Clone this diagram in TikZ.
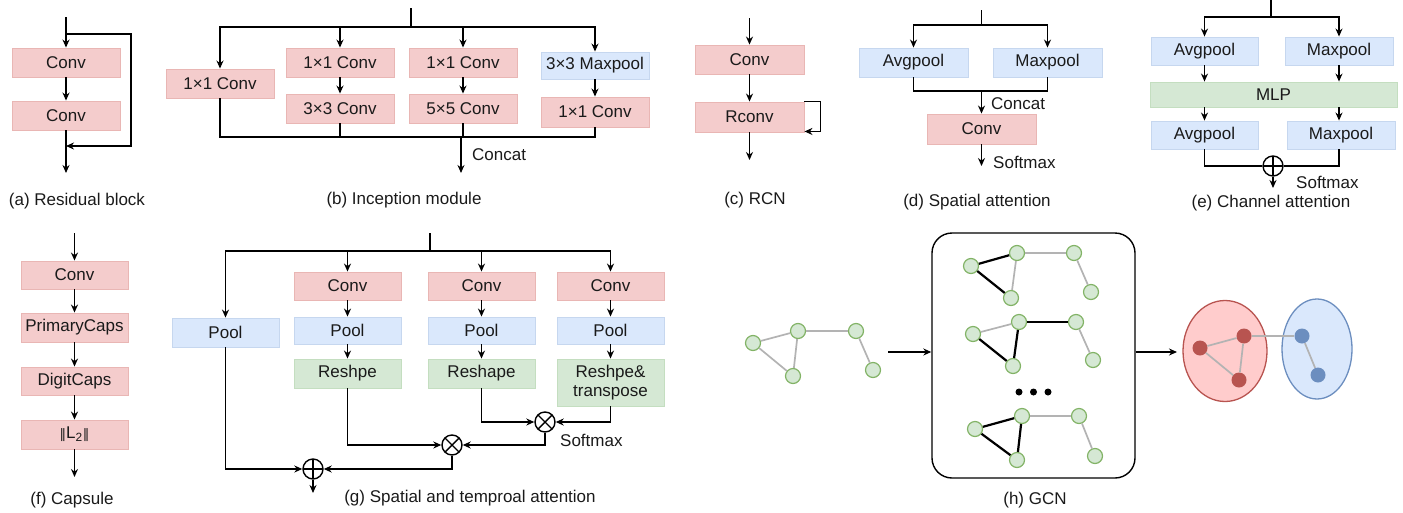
\documentclass[tikz,border=0pt]{standalone}
\usepackage{fontspec}
\setmainfont{Liberation Sans}
\newfontfamily\djv{DejaVu Sans}
\usetikzlibrary{arrows.meta,shapes.geometric}
\definecolor{pkf}{HTML}{F4CCCC}
\definecolor{pkd}{HTML}{E9B6B4}
\definecolor{blf}{HTML}{DAE8FC}
\definecolor{bld}{HTML}{C6D7EF}
\definecolor{gnf}{HTML}{D5E8D4}
\definecolor{gnd}{HTML}{C4DEC0}
\definecolor{gnode}{HTML}{82B366}
\definecolor{redf}{HTML}{FFCCCC}
\definecolor{redd}{HTML}{B85450}
\definecolor{bluf}{HTML}{DAE8FC}
\definecolor{blud}{HTML}{6C8EBF}
\definecolor{edgegray}{HTML}{B3B3B3}
\definecolor{ink}{HTML}{1A1A1A}
\begin{document}
\begin{tikzpicture}[x=1pt,y=-1pt,
 font=\fontsize{17}{20}\selectfont,
 every node/.style={text=ink},
 box/.style={draw, line width=0.9pt, inner sep=0pt, minimum width=108pt, minimum height=29pt},
 pk/.style={box, fill=pkf, draw=pkd},
 bl/.style={box, fill=blf, draw=bld},
 gn/.style={box, fill=gnf, draw=gnd},
 conn/.style={line width=1.8pt, draw=black},
 arr/.style={conn, -{Stealth[length=8pt,width=7pt]}},
 op/.style={circle, draw, line width=1.4pt, minimum size=20pt, inner sep=0pt, fill=white},
 oplus/.style={op, path picture={\draw[line width=1.4pt] (path picture bounding box.north) -- (path picture bounding box.south) (path picture bounding box.west) -- (path picture bounding box.east);}},
 otimes/.style={op, path picture={\draw[line width=1.4pt] (path picture bounding box.north west) -- (path picture bounding box.south east) (path picture bounding box.south west) -- (path picture bounding box.north east);}},
 txt/.style={inner sep=0pt, anchor=west},
 lab/.style={inner sep=0pt},
 gv/.style={circle, draw=gnode, fill=gnf, line width=1.2pt, minimum size=15pt, inner sep=0pt},
 ge/.style={draw=edgegray, line width=1.7pt},
 be/.style={draw=black, line width=2.2pt},
]
\useasboundingbox (0,0) rectangle (1403,512);

% ---------- (a) Residual block
\node[pk] (a1) at (66,62.5) {Conv};
\node[pk] (a2) at (66,115.5) {Conv};
\coordinate (ain) at (66,17);
\coordinate (askip) at (66,34);
\coordinate (askipR) at (131,34);
\coordinate (amerge) at (66,146);
\coordinate (aout) at (66,173);
\draw[arr] (ain) -- (a1);
\draw[arr] (a1) -- (a2);
\draw[arr] (a2) -- (aout);
\draw[arr] (askip) -- (askipR) |- (amerge);
\node[lab] (la) at (77,201) {(a) Residual block};

% ---------- (b) Inception module
\node[pk] (b1) at (220,83.5) {1×1 Conv};
\node[pk] (b2a) at (340,62.5) {1×1 Conv};
\node[pk] (b2b) at (340,108.5) {3×3 Conv};
\node[pk] (b3a) at (463,62.5) {1×1 Conv};
\node[pk] (b3b) at (463,108.5) {5×5 Conv};
\node[bl, minimum height=27pt] (b4a) at (595,65.5) {3×3 Maxpool};
\node[pk, minimum height=30pt] (b4b) at (595,112) {1×1 Conv};
\coordinate (btop) at (411,8);
\coordinate (bsplit) at (411,27);
\coordinate (bj) at (461,137);
\coordinate (bout) at (461,173);
\draw[conn] (btop) -- (bsplit);
\draw[arr] (bsplit) -| (b1);
\draw[arr] (bsplit) -| (b4a);
\draw[arr] (b2a|-bsplit) -- (b2a);
\draw[arr] (b3a|-bsplit) -- (b3a);
\draw[arr] (b2a) -- (b2b);
\draw[arr] (b3a) -- (b3b);
\draw[arr] (b4a) -- (b4b);
\draw[conn] (b1) |- (bj);
\draw[conn] (b4b) |- (bj);
\draw[conn] (b2b) -- (b2b|-bj);
\draw[conn] (b3b) -- (b3b|-bj);
\draw[arr] (bj) -- (bout);
\node[txt] (bcat) at (472,155) {Concat};
\node[lab] (lb) at (404,200) {(b) Inception module};

% ---------- (c) RCN
\node[pk, minimum width=109pt] (c1) at (749.5,59.5) {Conv};
\node[pk, minimum width=109pt, minimum height=30pt] (c2) at (749.5,117) {Rconv};
\coordinate (cin) at (749.5,18);
\coordinate (cout) at (749.5,160);
\draw[arr] (cin) -- (c1);
\draw[arr] (c1) -- (c2);
\draw[arr] (c2) -- (cout);
\draw[arr] (c2.north east) -- ++(16,0) |- ([yshift=1pt]c2.south east);
\node[lab] (lc) at (755,200) {(c) RCN};

% ---------- (d) Spatial attention
\node[bl, minimum width=109pt] (d1) at (913.5,62.5) {Avgpool};
\node[bl, minimum width=109pt] (d2) at (1047.5,62.5) {Maxpool};
\node[pk, minimum width=109pt, minimum height=30pt] (d3) at (981.5,129) {Conv};
\coordinate (din) at (981.5,10);
\coordinate (dsplit) at (981.5,25);
\coordinate (dj) at (981.5,91);
\coordinate (dout) at (981.5,166);
\draw[conn] (din) -- (dsplit);
\draw[arr] (dsplit) -| (d1);
\draw[arr] (dsplit) -| (d2);
\draw[conn] (d1) |- (dj);
\draw[conn] (d2) |- (dj);
\draw[arr] (dj) -- (d3);
\draw[arr] (d3) -- (dout);
\node[txt] (dcat) at (991,104) {Concat};
\node[txt] (dsm) at (993,162) {Softmax};
\node[lab] (ld) at (977,202) {(d) Spatial attention};

% ---------- (e) Channel attention
\node[bl, minimum width=107pt, minimum height=28pt] (e1) at (1204.5,51) {Avgpool};
\node[bl, minimum width=108pt, minimum height=28pt] (e2) at (1339,51) {Maxpool};
\node[gn, minimum width=247pt, minimum height=25pt] (emlp) at (1273.5,94.5) {MLP};
\node[bl, minimum width=107pt, minimum height=28pt] (e4) at (1204.5,135) {Avgpool};
\node[bl, minimum width=108pt, minimum height=28pt] (e5) at (1341,135) {Maxpool};
\node[oplus] (eplus) at (1273,166) {};
\coordinate (ein) at (1271,0);
\coordinate (esplit) at (1271,17);
\coordinate (eout) at (1273,188);
\draw[conn] (ein) -- (esplit);
\draw[arr] (esplit) -| (e1);
\draw[arr] (esplit) -| (e2);
\draw[arr] (e1) -- (e1|-emlp.north);
\draw[arr] (e2) -- (e2|-emlp.north);
\draw[arr] (e1|-emlp.south) -- (e4);
\draw[arr] (e2|-emlp.south) -- (e2|-e5.north);
\draw[conn] (e4) |- (eplus);
\draw[conn] (e2|-e5.south) |- (eplus);
\draw[arr] (eplus) -- (eout);
\node[txt] (esm) at (1296,182) {Softmax};
\node[lab] (le) at (1271,203) {(e) Channel attention};

% ---------- (f) Capsule
\node[pk, minimum width=107pt, minimum height=28pt] (f1) at (74.5,275) {Conv};
\node[pk, minimum width=107pt] (f2) at (74.5,327.5) {PrimaryCaps};
\node[pk, minimum width=107pt, minimum height=28pt] (f3) at (74.5,381) {DigitCaps};
\node[pk, minimum width=107pt] (f4) at (74.5,434.5) {{\djv\fontsize{13}{15}\selectfont‖}L\textsubscript{2}{\djv\fontsize{13}{15}\selectfont‖}};
\coordinate (fin) at (74.5,233);
\coordinate (fout) at (74.5,477);
\draw[arr] (fin) -- (f1);
\draw[arr] (f1) -- (f2);
\draw[arr] (f2) -- (f3);
\draw[arr] (f3) -- (f4);
\draw[arr] (f4) -- (fout);
\node[lab] (lf) at (72,500) {(f) Capsule};

% ---------- (g) Spatial and temporal attention
\node[bl, minimum width=107pt] (gpool) at (225.5,332.5) {Pool};
\node[pk, minimum width=107pt, minimum height=28pt] (g1c) at (347.5,286) {Conv};
\node[bl, minimum width=107pt, minimum height=27pt] (g1p) at (347.5,330.5) {Pool};
\node[gn, minimum width=107pt] (g1r) at (347.5,373.5) {Reshpe};
\node[pk, minimum width=107pt, minimum height=28pt] (g2c) at (481.5,286) {Conv};
\node[bl, minimum width=107pt, minimum height=27pt] (g2p) at (481.5,330.5) {Pool};
\node[gn, minimum width=107pt] (g2r) at (481.5,373.5) {Reshape};
\node[pk, minimum width=107pt, minimum height=28pt] (g3c) at (610.5,286) {Conv};
\node[bl, minimum width=107pt, minimum height=27pt] (g3p) at (610.5,330.5) {Pool};
\node[gn, minimum width=107pt, minimum height=47pt, align=center, font=\fontsize{17}{19}\selectfont] (g3r) at (610.5,382.5) {Reshpe\&\\transpose};
\node[otimes] (gx1) at (545,422) {};
\node[otimes] (gx2) at (452,445) {};
\node[oplus] (gp) at (313,469) {};
\coordinate (gin) at (430,233);
\coordinate (gsplit) at (430,251);
\coordinate (gout) at (313,493);
\draw[conn] (gin) -- (gsplit);
\draw[arr] (gsplit) -| (gpool);
\draw[arr] (gsplit) -| (g3c);
\draw[arr] (g1c|-gsplit) -- (g1c);
\draw[arr] (g2c|-gsplit) -- (g2c);
\draw[arr] (g1c) -- (g1p);
\draw[arr] (g1p) -- (g1r);
\draw[arr] (g2c) -- (g2p);
\draw[arr] (g2p) -- (g2r);
\draw[arr] (g3c) -- (g3p);
\draw[arr] (g3p) -- (g3r);
\draw[arr] (g2r) |- (gx1);
\draw[arr] (g3r) |- (gx1);
\draw[arr] (gx1) |- (gx2);
\draw[arr] (g1r) |- (gx2);
\draw[arr] (gx2) |- (gp);
\draw[arr] (gpool) |- (gp);
\draw[arr] (gp) -- (gout);
\node[txt] (gsm) at (560,440) {Softmax};
\node[lab] (lg) at (470,498) {(g) Spatial and temproal attention};

% ---------- (h) GCN
\node[gv] (L1) at (753,343) {};
\node[gv] (L2) at (798,331) {};
\node[gv] (L3) at (793,376) {};
\node[gv] (L4) at (856,331) {};
\node[gv] (L5) at (873,370) {};
\draw[ge] (L1) -- (L2); \draw[ge] (L1) -- (L3); \draw[ge] (L2) -- (L3);
\draw[ge] (L2) -- (L4); \draw[ge] (L4) -- (L5);

\node[draw, rounded corners=20pt, line width=1.4pt, minimum width=203pt, minimum height=245pt, inner sep=0pt] (gbox) at (1033.5,355.5) {};
\coordinate (hin) at (888,352);
\coordinate (hout) at (1177,352);
\draw[arr] (hin) -- (hin-|gbox.west);
\draw[arr] (hin-|gbox.east) -- (hout);

\node[gv] (P1) at (971,266) {};
\node[gv] (P2) at (1017,253) {};
\node[gv] (P3) at (1011,298) {};
\node[gv] (P4) at (1074,253) {};
\node[gv] (P5) at (1091,292) {};
\draw[be] (P1) -- (P2); \draw[be] (P1) -- (P3); \draw[ge] (P2) -- (P3);
\draw[ge] (P2) -- (P4); \draw[ge] (P4) -- (P5);

\node[gv] (Q1) at (973,334) {};
\node[gv] (Q2) at (1019,322) {};
\node[gv] (Q3) at (1013,366) {};
\node[gv] (Q4) at (1076,322) {};
\node[gv] (Q5) at (1093,360) {};
\draw[ge] (Q1) -- (Q2); \draw[be] (Q1) -- (Q3); \draw[be] (Q2) -- (Q3);
\draw[be] (Q2) -- (Q4); \draw[ge] (Q4) -- (Q5);

\node[circle, fill=black, inner sep=0pt, minimum size=7pt] (dt1) at (1019,392) {};
\node[circle, fill=black, inner sep=0pt, minimum size=7pt] (dt2) at (1033.5,392) {};
\node[circle, fill=black, inner sep=0pt, minimum size=7pt] (dt3) at (1048,392) {};

\node[gv] (R1) at (975,429) {};
\node[gv] (R2) at (1022,416) {};
\node[gv] (R3) at (1017,460) {};
\node[gv] (R4) at (1079,416) {};
\node[gv] (R5) at (1095,456) {};
\draw[be] (R1) -- (R2); \draw[be] (R1) -- (R3); \draw[be] (R2) -- (R3);
\draw[ge] (R2) -- (R4); \draw[ge] (R4) -- (R5);

\node[ellipse, draw=redd, fill=redf, line width=1.3pt, minimum width=84pt, minimum height=101pt, inner sep=0pt] (cr) at (1225,351) {};
\node[ellipse, draw=blud, fill=bluf, line width=1.3pt, minimum width=70pt, minimum height=100pt, inner sep=0pt] (cb) at (1317,349) {};
\node[circle, fill=redd, inner sep=0pt, minimum size=15pt] (r1) at (1200,348) {};
\node[circle, fill=redd, inner sep=0pt, minimum size=15pt] (r2) at (1244,336) {};
\node[circle, fill=redd, inner sep=0pt, minimum size=15pt] (r3) at (1239,380) {};
\node[circle, fill=blud, inner sep=0pt, minimum size=15pt] (s1) at (1302,336) {};
\node[circle, fill=blud, inner sep=0pt, minimum size=15pt] (s2) at (1318,375) {};
\draw[ge] (r1) -- (r2); \draw[ge] (r1) -- (r3); \draw[ge] (r2) -- (r3);
\draw[ge] (r2) -- (s1); \draw[ge] (s1) -- (s2);
\node[lab] (lh) at (1035,500) {(h) GCN};
\end{tikzpicture}
\end{document}
